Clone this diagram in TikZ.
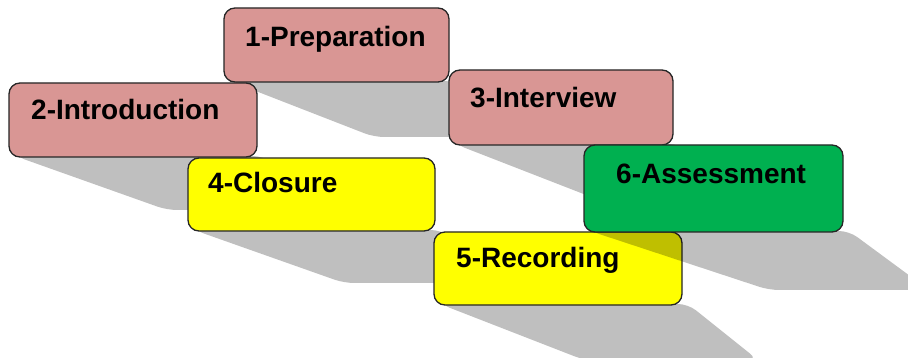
\documentclass[tikz,border=0pt]{standalone}
\usepackage{fontspec}
\setmainfont{Liberation Sans}
\definecolor{pinkfill}{HTML}{D99694}
\definecolor{yellowfill}{HTML}{FFFF00}
\definecolor{greenfill}{HTML}{00B050}
\tikzset{
  stagebox/.style={draw=black!85, line width=1.3pt, rounded corners=11pt,
    anchor=north west, inner sep=0pt, outer sep=0pt},
  stagelabel/.style={anchor=base west, inner sep=0pt,
    font=\fontsize{28}{34}\selectfont\bfseries},
  floorshadow/.style={fill=black, fill opacity=0.25, rounded corners=10pt},
}
% #1 name, #2 left, #3 top, #4 right, #5 bottom, #6 fill,
% #7 shadow depth, #8 shadow shift (left edge), #9 shadow shift (right edge)
\newcommand\stagecard[9]{%
  \fill[floorshadow] (#2+6,#5-1) -- (#2+#8,#5+#7) -- (#4+#9,#5+#7)
    -- (#4+6,#5-1) -- cycle;
  \node[stagebox, fill=#6, minimum width=#4-#2, minimum height=#5-#3]
    (#1) at (#2,#3) {};
}
\begin{document}
\begin{tikzpicture}[x=1pt, y=-1pt]
  \useasboundingbox (0,0) rectangle (908,358);
  \clip (0,0) rectangle (908,358);
  \fill[white] (0,0) rectangle (908,358);

  \stagecard{prep}{224}{8}{449}{82}{pinkfill}{55}{150}{78}
  \stagecard{intro}{9}{83}{257}{157}{pinkfill}{53}{158}{78}
  \stagecard{interview}{449}{70}{673}{145}{pinkfill}{55}{150}{78}
  \stagecard{closure}{188}{158}{435}{231}{yellowfill}{52}{156}{78}
  \stagecard{recording}{434}{232}{682}{305}{yellowfill}{55}{150}{76}
  \stagecard{assess}{584}{145}{843}{232}{greenfill}{58}{185}{86}

  \node[stagelabel] (prep-t) at (245,47) {1-Preparation};
  \node[stagelabel] (intro-t) at (31,120) {2-Introduction};
  \node[stagelabel] (interview-t) at (470,108) {3-Interview};
  \node[stagelabel] (closure-t) at (208,193) {4-Closure};
  \node[stagelabel] (recording-t) at (456,268) {5-Recording};
  \node[stagelabel] (assess-t) at (616,184) {6-Assessment};
\end{tikzpicture}
\end{document}
